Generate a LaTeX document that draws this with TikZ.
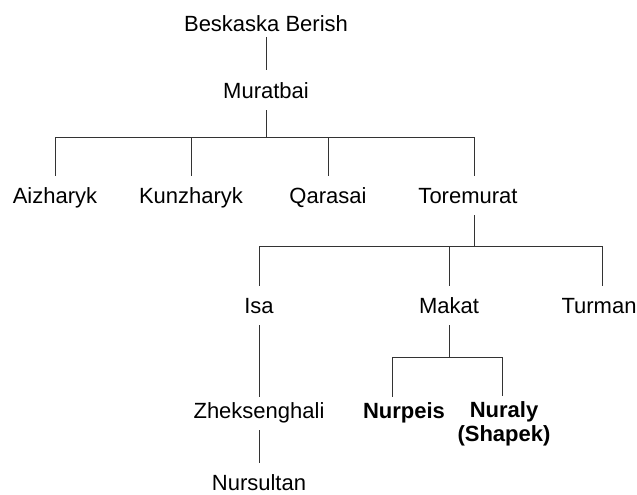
\documentclass[tikz,border=0pt]{standalone}
\usepackage{fontspec}
\setmainfont{Liberation Sans}
\begin{document}
\begin{tikzpicture}[x=1pt,y=-1pt,
    person/.style={inner sep=0pt,outer ysep=12pt,anchor=base,text height=15.5pt,text depth=0pt,
                   font=\fontsize{22}{24}\selectfont},
    heir/.style={person,font=\fontsize{22}{24}\selectfont\bfseries},
    heirtwo/.style={inner sep=0pt,outer ysep=12pt,anchor=north,align=center,
                    font=\fontsize{22}{24}\selectfont\bfseries},
    line/.style={draw=black!80,line width=1pt}]
  \useasboundingbox (0,0) rectangle (637,495);

  \node[person] (bes)  at (266,32)  {Beskaska Berish};
  \node[person] (mur)  at (266,98)  {Muratbai};
  \node[person] (aiz)  at (55,203)  {Aizharyk};
  \node[person] (kun)  at (191,203) {Kunzharyk};
  \node[person] (qar)  at (328,203) {Qarasai};
  \node[person] (tor)  at (468,203) {Toremurat};
  \node[person] (isa)  at (259,313) {Isa};
  \node[person] (mak)  at (449,313) {Makat};
  \node[person] (tur)  at (599,313) {Turman};
  \node[person] (zhe)  at (259,418) {Zheksenghali};
  \node[person] (nurs) at (259,490) {Nursultan};
  \node[heir]   (nurp) at (404,418) {Nurpeis};
  \node[heirtwo] (nural) at (504,390) {Nuraly\\(Shapek)};

  \coordinate (mj) at (266,137);
  \coordinate (tj) at (474,246);
  \coordinate (kj) at (449,357);

  \path[line] (bes) edge[shorten <=-7pt] (mur)
              (mur) edge (mj)
              (isa) edge[shorten >=-6pt] (zhe)
              (zhe) edge (nurs)
              (mak) edge (kj);
  \draw[line] (mj) -| (aiz);
  \draw[line] (mj) -| (kun);
  \draw[line] (mj) -| (qar);
  \draw[line] (mj) -| ([xshift=6pt]tor.north);
  \draw[line] ([xshift=6pt]tor.south) -- (tj);
  \draw[line] (tj) -| (isa);
  \draw[line] (tj) -| (mak);
  \draw[line] (tj) -| ([xshift=3pt]tur.north);
  \draw[line,shorten >=-6pt] (kj) -| ([xshift=-12pt]nurp.north);
  \draw[line,shorten >=-6pt] (kj) -| ([xshift=-2pt]nural.north);
\end{tikzpicture}
\end{document}
